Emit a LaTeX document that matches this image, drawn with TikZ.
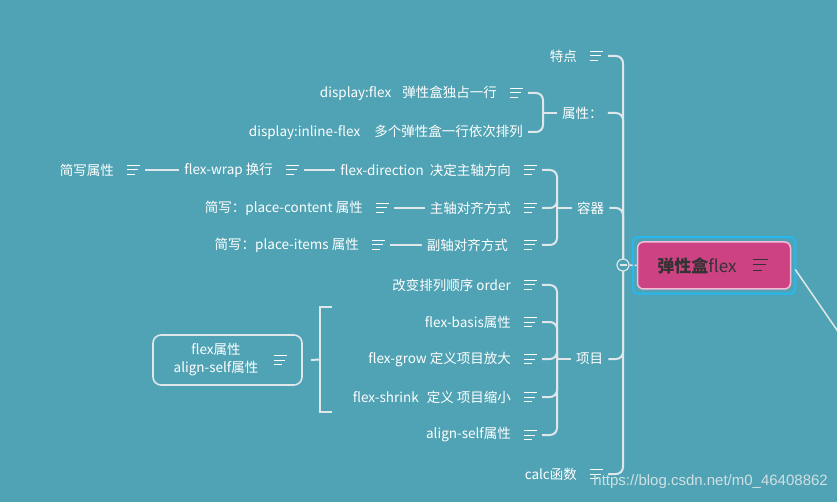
\documentclass[tikz,border=0pt]{standalone}
\usepackage{fontspec}
\setmainfont{Noto Sans CJK SC}
\newfontfamily\wmfont{Liberation Sans}
\definecolor{bg}{RGB}{80,163,180}
\definecolor{linec}{RGB}{224,231,235}
\definecolor{rootfill}{RGB}{205,66,130}
\definecolor{rootedge}{RGB}{246,186,214}
\definecolor{selblue}{RGB}{38,184,240}
\definecolor{darktxt}{RGB}{51,51,51}
\definecolor{wmcol}{RGB}{208,224,228}
\newcommand\iconsp{\rule{26pt}{0pt}}
\newcommand\gap[1]{\rule{#1}{0pt}}
\tikzset{
  topic/.style={text=white, font=\fontsize{13.5}{16}\selectfont, inner xsep=5pt, inner ysep=2pt, anchor=east},
  topicw/.style={topic, anchor=west},
  conn/.style={draw=linec, line width=2pt, rounded corners=7pt},
  noteicon/.pic={\draw[line width=1pt, pic actions] (0,-4.5) -- (13,-4.5) (0,0) -- (11,0) (0,4.5) -- (8,4.5);},
  rootbox/.style={rectangle, rounded corners=6pt, fill=rootfill, draw=rootedge, line width=1.5pt, minimum width=153pt, minimum height=47pt, text=darktxt, font=\fontsize{17}{20}\selectfont, inner sep=0pt},
  sumbox/.style={rectangle, rounded corners=8pt, draw=linec, line width=1.6pt, minimum width=149pt, minimum height=50pt},
}
\newcommand\topicicon[1]{\pic[draw=white] at ([xshift=-18pt]#1.east) {noteicon};}
\begin{document}
\begin{tikzpicture}[x=1pt,y=-1pt]
\path[use as bounding box, fill=bg] (0,0) rectangle (837,502);
\clip (0,0) rectangle (837,502);

% root
\node[rootbox] (root) at (714,265.5) {{\bfseries 弹性盒}flex\gap{34pt}};
\pic[draw=darktxt, scale=1.15] at (753,265) {noteicon};
\draw[selblue, line width=2pt, rounded corners=5pt] ([shift={(-4,-4)}]root.north west) rectangle ([shift={(4,4)}]root.south east);
\coordinate (rootout) at (870,378);
\draw[linec, line width=1.5pt] ([xshift=4pt,yshift=-4pt]root.east) -- (rootout);

% hub
\coordinate (hub) at (623,265);

% level 1
\node[topic] (tedian) at (608,56) {特点\iconsp}; \topicicon{tedian}
\node[topicw] (shuxing) at (557,113) {属性：};
\node[topicw] (rongqi) at (572,208) {容器};
\node[topicw] (xiangmu) at (571,359) {项目};
\node[topic] (calc) at (608,474) {calc函数\iconsp}; \topicicon{calc}

% under shuxing
\node[topic] (d1) at (528,93) {display:flex\gap{11pt}弹性盒独占一行\iconsp}; \topicicon{d1}
\node[topic] (d2) at (528,132) {display:inline-flex\gap{14pt}多个弹性盒一行依次排列};

% under rongqi
\node[topic] (fd) at (542,170) {flex-direction\gap{6pt}决定主轴方向\iconsp}; \topicicon{fd}
\node[topic] (zz) at (542,208) {主轴对齐方式\iconsp}; \topicicon{zz}
\node[topic] (fz) at (542,245) {副轴对齐方式\gap{3pt}\iconsp}; \topicicon{fz}
\node[topic] (fw) at (304,170) {flex-wrap 换行\iconsp}; \topicicon{fw}
\node[topic] (jx) at (145,170) {简写属性\iconsp}; \topicicon{jx}
\node[topic] (pc) at (394,208) {简写：place-content 属性\iconsp}; \topicicon{pc}
\node[topic] (pi) at (390,245) {简写：place-items 属性\iconsp}; \topicicon{pi}

% under xiangmu
\node[topic] (o1) at (542,285) {改变排列顺序 order\iconsp}; \topicicon{o1}
\node[topic] (o2) at (542,322) {flex-basis属性\iconsp}; \topicicon{o2}
\node[topic] (o3) at (542,359) {flex-grow 定义项目放大\iconsp}; \topicicon{o3}
\node[topic] (o4) at (542,397) {flex-shrink\gap{8pt}定义 项目缩小\iconsp}; \topicicon{o4}
\node[topic] (o5) at (542,435) {align-self属性\iconsp}; \topicicon{o5}

% summary
\node[sumbox] (sum) at (227.5,360) {};
\node[text=white, font=\fontsize{13.5}{18}\selectfont, align=center, inner sep=0pt] (sumtxt) at (216,360) {flex属性\\align-self属性};
\pic[draw=white] at ([xshift=-29pt]sum.east) {noteicon};
\coordinate (sb) at (320,359.5);
\coordinate (sbt) at (332,307);
\coordinate (sbb) at (332,412);
\draw[conn, rounded corners=0pt] (sbt) -- (sbt -| sb) -- (sbb -| sb) -- (sbb);
\draw[conn] ([xshift=8pt]sum.east) -- (sb);

% main branches
\foreach \n in {tedian,calc} {\draw[conn] (\n.east) -- (\n.east -| hub) -- (hub);}
\foreach \n in {shuxing,rongqi,xiangmu} {\draw[conn] (\n.east) -- (\n.east -| hub) -- (hub);}

% shuxing bracket
\coordinate (b1) at (543,113);
\foreach \n in {d1,d2} {\draw[conn] (\n.east) -- (\n.east -| b1) -- (b1);}
\draw[conn] (b1) -- (shuxing.west);

% rongqi bracket
\coordinate (b2) at (557,208);
\foreach \n in {fd,zz,fz} {\draw[conn] (\n.east) -- (\n.east -| b2) -- (b2);}
\draw[conn] (b2) -- (rongqi.west);
\draw[conn] (fw.east) -- (fd.west);
\draw[conn] (jx.east) -- (fw.west);
\draw[conn] (pc.east) -- (zz.west);
\draw[conn] (pi.east) -- (fz.west);

% xiangmu bracket
\coordinate (b3) at (557,359);
\foreach \n in {o1,o2,o3,o4,o5} {\draw[conn] (\n.east) -- (\n.east -| b3) -- (b3);}
\draw[conn] (b3) -- (xiangmu.west);

% fold circle
\node[circle, draw=linec, fill=bg, line width=1.2pt, minimum size=12pt, inner sep=0pt] (fold) at (hub) {};
\draw[linec, line width=1.2pt] ([xshift=-3.5pt]fold.center) -- ([xshift=3.5pt]fold.center);
\draw[linec, line width=1.5pt, dash pattern=on 3pt off 2pt] (fold.east) -- (root.west);

% watermark
\node[font=\wmfont\fontsize{15}{18}\selectfont, text=wmcol, anchor=east, inner sep=0pt] (wm) at (828,482) {https://blog.csdn.net/m0\_46408862};
\end{tikzpicture}
\end{document}
